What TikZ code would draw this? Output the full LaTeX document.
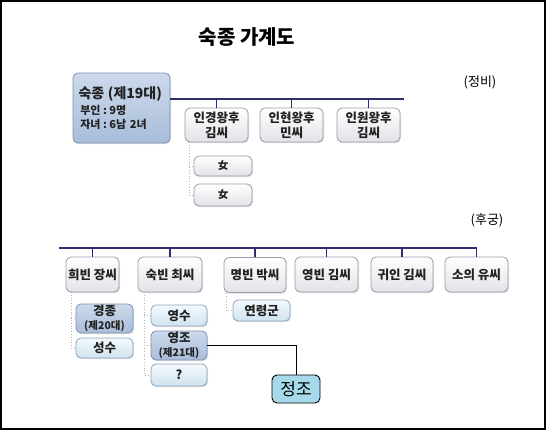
\documentclass[tikz,border=0pt]{standalone}
\usepackage{fontspec}
\setmainfont{Noto Sans CJK KR}
\usetikzlibrary{shadows}
\definecolor{navy}{HTML}{2E2E6E}
\definecolor{bx}{HTML}{9A9AAA}
\definecolor{lbx}{HTML}{8FA3BC}
\definecolor{dbx}{HTML}{7F8FAF}
\definecolor{txt}{HTML}{222222}
\definecolor{wbot}{HTML}{E2E2E8}
\definecolor{ltop}{HTML}{F4F9FC}
\definecolor{lbot}{HTML}{CFE3F0}
\definecolor{dtop}{HTML}{CDDAEC}
\definecolor{dbot}{HTML}{A8BCD9}
\definecolor{jjfill}{HTML}{A6DAEA}
\tikzset{
  base/.style={rounded corners=5pt, inner sep=0pt, align=center, text=txt,
    font=\fontsize{12.5pt}{15pt}\selectfont\bfseries,
    drop shadow={shadow xshift=1pt, shadow yshift=-1.2pt, opacity=0.25}},
  wbox/.style={base, draw=bx, line width=0.8pt, top color=white, bottom color=wbot},
  lbox/.style={base, draw=lbx, line width=0.8pt, top color=ltop, bottom color=lbot},
  dbox/.style={base, draw=dbx, line width=0.8pt, top color=dtop, bottom color=dbot},
  bar/.style={navy, line width=1.8pt},
  tick/.style={navy, line width=1.8pt},
  dots/.style={gray!60, line width=0.8pt, dotted},
}
\begin{document}
\begin{tikzpicture}[x=1pt,y=-1pt]
\useasboundingbox (0,0) rectangle (547,432);
\draw[black, line width=2pt] (1,1) rectangle (545,429);
\node[font=\fontsize{20pt}{24pt}\selectfont\bfseries] (title) at (247,37) {숙종 가계도};
\node[font=\fontsize{13pt}{15pt}\selectfont] (jb) at (480,82) {(정비)};
\node[font=\fontsize{13pt}{15pt}\selectfont] (hg) at (487,220) {(후궁)};

% king
\node[dbox, minimum width=97pt, minimum height=70pt, align=left, text width=86pt, font=\fontsize{11pt}{14pt}\selectfont\bfseries] (sj) at (121.5,108)
 {\mbox{\fontsize{14pt}{18pt}\selectfont 숙종 (제19대)}\\[2pt]
  \,부인\hspace{2.5pt}:\hspace{2.5pt}9명\\
  \,자녀\hspace{2.5pt}:\hspace{2.5pt}6남 2녀};

% queens
\coordinate (l1s) at (170,99);
\coordinate (l1e) at (404,99);
\node[wbox, minimum width=63pt, minimum height=34pt] (q1) at (216.5,125) {인경왕후\\김씨};
\node[wbox, minimum width=63pt, minimum height=34pt] (q2) at (291.5,125) {인현왕후\\민씨};
\node[wbox, minimum width=63pt, minimum height=34pt] (q3) at (368.5,125) {인원왕후\\김씨};
\draw[bar] (l1s) -- (l1e);
\foreach \n in {q1,q2,q3} \draw[tick] (l1s -| \n.north) -- (\n.north);

\node[wbox, minimum width=58pt, minimum height=20pt, font=\fontsize{10.5pt}{12pt}\selectfont\bfseries] (d1) at (223,166) {女};
\node[wbox, minimum width=58pt, minimum height=22pt, font=\fontsize{10.5pt}{12pt}\selectfont\bfseries] (d2) at (223,195) {女};
\coordinate (c1) at (189,142);
\draw[dots] (c1) |- (d2.west);
\draw[dots] (c1 |- d1.west) -- (d1.west);

% concubines
\coordinate (l2s) at (59,248);
\coordinate (l2e) at (477,248);
\node[wbox, minimum width=53pt, minimum height=35pt] (h1) at (92.5,274.5) {희빈 장씨};
\node[wbox, minimum width=64pt, minimum height=35pt] (h2) at (170,274.5) {숙빈 최씨};
\node[wbox, minimum width=62pt, minimum height=35pt] (h3) at (255,275) {명빈 박씨};
\node[wbox, minimum width=63pt, minimum height=35pt] (h4) at (326.5,274.5) {영빈 김씨};
\node[wbox, minimum width=62pt, minimum height=35pt] (h5) at (402,274.5) {귀인 김씨};
\node[wbox, minimum width=63pt, minimum height=35pt] (h6) at (476.5,274.5) {소의 유씨};
\draw[bar] (l2s) -- (l2e);
\foreach \n in {h1,h2,h3,h4,h5,h6} \draw[tick] (l2s -| \n.north) -- (\n.north);

% children of 희빈
\node[dbox, minimum width=57pt, minimum height=29pt, font=\fontsize{12.5pt}{13.5pt}\selectfont\bfseries] (k1) at (104.5,318.5) {경종\\{\fontsize{10.5pt}{12pt}\selectfont (제20대)}};
\node[lbox, minimum width=57pt, minimum height=20pt] (k2) at (104.5,348) {성수};
\coordinate (c2) at (71,292);
\draw[dots] (c2) |- (k2.west);
\draw[dots] (c2 |- k1.west) -- (k1.west);

% children of 숙빈
\node[lbox, minimum width=56pt, minimum height=21pt] (s1) at (179,315.5) {영수};
\node[dbox, minimum width=56pt, minimum height=29pt, font=\fontsize{12.5pt}{13.5pt}\selectfont\bfseries] (s2) at (179,345.5) {영조\\{\fontsize{10.5pt}{12pt}\selectfont (제21대)}};
\node[lbox, minimum width=56pt, minimum height=22pt] (s3) at (179,375) {?};
\coordinate (c3) at (144,292);
\draw[dots] (c3) |- (s3.west);
\draw[dots] (c3 |- s1.west) -- (s1.west);
\draw[dots] (c3 |- s2.west) -- (s2.west);

% child of 명빈
\node[lbox, minimum width=57pt, minimum height=21pt] (m1) at (261.5,310.5) {연령군};
\coordinate (c4) at (226,293);
\draw[dots] (c4) |- (m1.west);

% 정조
\node[draw=black, line width=0.9pt, fill=jjfill, rounded corners=5pt, minimum width=48pt, minimum height=28pt, inner sep=0pt, font=\fontsize{17pt}{19pt}\selectfont] (jj) at (296,389) {정조};
\draw[black, line width=0.8pt] (s2.east) -| (jj.north);
\end{tikzpicture}
\end{document}
